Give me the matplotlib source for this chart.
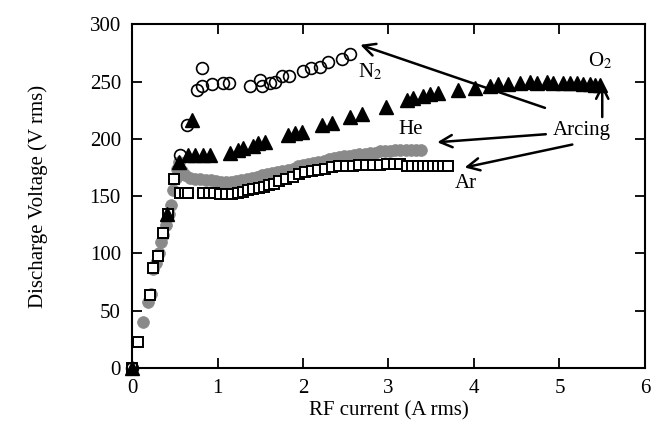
import matplotlib
matplotlib.use("Agg")
import matplotlib.pyplot as plt
import numpy as np

plt.rcParams['font.family'] = ['Liberation Serif', 'DejaVu Serif']
plt.rcParams['font.size'] = 15
plt.rcParams['mathtext.fontset'] = 'stix'

# N2 (open circles)
n2_x = [0.00, 0.56, 0.64, 0.76, 0.82, 0.82, 0.94, 1.06, 1.13, 1.38, 1.50, 1.52,
        1.61, 1.67, 1.75, 1.84, 2.00, 2.09, 2.20, 2.29, 2.46, 2.55]
n2_y = [0, 186, 212, 243, 262, 246, 248, 249, 249, 246, 251, 246,
        249, 250, 255, 255, 259, 262, 263, 267, 270, 274]

# O2 (filled triangles)
o2_x = [0.00, 0.41, 0.55, 0.66, 0.70, 0.74, 0.83, 0.91, 1.15, 1.24, 1.30, 1.42,
        1.47, 1.56, 1.82, 1.91, 1.99, 2.22, 2.34, 2.55, 2.69, 2.97, 3.22, 3.29,
        3.40, 3.49, 3.58, 3.81, 4.01, 4.19, 4.28, 4.40, 4.54, 4.65, 4.74, 4.85,
        4.92, 5.04, 5.12, 5.20, 5.27, 5.36, 5.42, 5.47]
o2_y = [0, 134, 180, 186, 216, 186, 186, 186, 188, 190, 192, 194,
        196, 197, 203, 205, 206, 212, 214, 219, 222, 228, 234, 236,
        237, 239, 240, 243, 244, 246, 248, 248, 249, 250, 249, 250,
        249, 249, 249, 249, 248, 248, 247, 247]

# He (grey filled circles)
he_x = [0.00, 0.13, 0.19, 0.22, 0.25, 0.28, 0.31, 0.34, 0.36, 0.40, 0.43, 0.46,
        0.48, 0.51, 0.53, 0.55, 0.58, 0.62, 0.68, 0.74, 0.80, 0.86, 0.92, 0.98,
        1.04, 1.10, 1.16, 1.22, 1.28, 1.34, 1.40, 1.46, 1.52, 1.58, 1.64, 1.70,
        1.76, 1.82, 1.88, 1.94, 2.00, 2.06, 2.12, 2.18, 2.24, 2.30, 2.36, 2.42,
        2.48, 2.54, 2.60, 2.66, 2.72, 2.78, 2.84, 2.90, 2.96, 3.02, 3.08, 3.14,
        3.20, 3.26, 3.32, 3.38]
he_y = [0, 40, 58, 65, 86, 92, 100, 110, 116, 125, 134, 142,
        155, 166, 174, 180, 172, 168, 166, 165, 165, 164, 164, 163,
        162, 162, 162, 163, 164, 165, 166, 167, 168, 169, 170, 171,
        172, 173, 174, 176, 177, 178, 179, 180, 181, 182, 183, 184,
        185, 185, 186, 187, 187, 188, 188, 189, 189, 189, 190, 190,
        190, 190, 190, 190]

# Ar (open squares)
ar_x = [0.00, 0.07, 0.21, 0.25, 0.30, 0.36, 0.42, 0.49, 0.56, 0.62, 0.66, 0.83,
        0.90, 0.96, 1.03, 1.10, 1.17, 1.24, 1.30, 1.36, 1.42, 1.48, 1.54, 1.60,
        1.66, 1.72, 1.80, 1.88, 1.95, 2.02, 2.10, 2.18, 2.26, 2.34, 2.42, 2.50,
        2.58, 2.66, 2.74, 2.82, 2.90, 2.98, 3.06, 3.14, 3.22, 3.28, 3.34, 3.40,
        3.46, 3.52, 3.58, 3.64, 3.70]
ar_y = [0, 23, 64, 87, 98, 118, 134, 165, 153, 153, 153, 153,
        153, 153, 152, 152, 152, 153, 154, 155, 156, 157, 158, 160,
        161, 163, 165, 167, 169, 171, 172, 173, 174, 175, 176, 176,
        176, 177, 177, 177, 177, 178, 178, 178, 176, 176, 176, 176,
        176, 176, 176, 176, 176]

fig = plt.figure(figsize=(6.62, 4.32), dpi=100)
ax = fig.add_axes([0.1994, 0.148, 0.7749, 0.796])

ax.plot(he_x, he_y, 'o', ms=8.5, mfc='#8a8a8a', mec='#8a8a8a', mew=0.5, clip_on=False, zorder=3)
ax.plot(ar_x, ar_y, 's', ms=7.5, mfc='white', mec='black', mew=1.4, clip_on=False, zorder=4)
ax.plot(o2_x, o2_y, '^', ms=10, mfc='black', mec='black', clip_on=False, zorder=5)
ax.plot(n2_x, n2_y, 'o', ms=8.5, mfc='none', mec='black', mew=1.2, clip_on=False, zorder=6)

ax.set_xlim(0, 6)
ax.set_ylim(0, 300)
ax.set_xticks(range(7))
ax.set_yticks(range(0, 301, 50))
ax.tick_params(direction='in', length=7, width=1.3, top=True, right=True, pad=8)
for s in ax.spines.values():
    s.set_linewidth(1.5)

ax.set_xlabel("RF current (A rms)", labelpad=2)
ax.set_ylabel("Discharge Voltage (V rms)", labelpad=30)

# labels
ax.text(2.64, 258, r"N$_2$", va='center', ha='left')
ax.text(5.33, 268, r"O$_2$", va='center', ha='left')
ax.text(3.12, 208, "He", va='center', ha='left')
ax.text(4.92, 207, "Arcing", va='center', ha='left')
ax.text(3.78, 161, "Ar", va='center', ha='left')

arrow = dict(arrowstyle='->', lw=1.8, color='black', mutation_scale=22, shrinkA=0, shrinkB=0)
ax.annotate("", xy=(2.67, 282), xytext=(4.83, 227), arrowprops=arrow)
ax.annotate("", xy=(5.50, 248), xytext=(5.50, 219), arrowprops=arrow)
ax.annotate("", xy=(3.57, 197), xytext=(4.84, 204), arrowprops=arrow)
ax.annotate("", xy=(3.89, 175), xytext=(5.15, 195), arrowprops=arrow)

fig.savefig("out.png", dpi=100)
